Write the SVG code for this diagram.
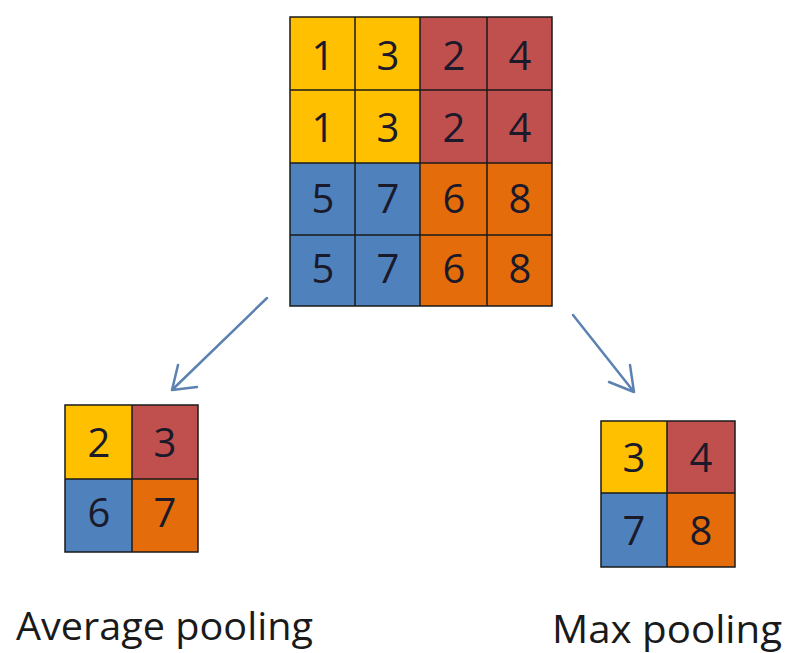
<svg xmlns="http://www.w3.org/2000/svg" width="785" height="653" viewBox="0 0 785 653">
<defs>
<style>
.y{fill:#FFC000}.r{fill:#C0504D}.b{fill:#4F81BD}.o{fill:#E46C0A}
.grid{fill:none;stroke:#1a1a1a;stroke-width:1.5}
.d{font-family:"Open Sans","Liberation Sans",sans-serif;font-size:40px;fill:#1a1a2a;text-anchor:middle}
.lbl{font-family:"Open Sans","Liberation Sans",sans-serif;font-size:38px;fill:#1a1a1a}
.arr{fill:none;stroke:#5B82B0;stroke-width:2.5;stroke-linecap:round;stroke-linejoin:round}
</style>
</defs>
<rect width="785" height="653" fill="#ffffff"/>
<g id="input">
<rect class="y" x="290" y="17" width="130" height="146"/>
<rect class="r" x="420" y="17" width="132" height="146"/>
<rect class="b" x="290" y="163" width="130" height="143"/>
<rect class="o" x="420" y="163" width="132" height="143"/>
<path class="grid" d="M290 17H552V306H290Z M355 17V306 M420 17V306 M487 17V306 M290 90H552 M290 163H552 M290 235H552"/>
<text class="d" x="323" y="70">1</text><text class="d" x="388" y="70">3</text><text class="d" x="454" y="70">2</text><text class="d" x="520" y="70">4</text>
<text class="d" x="323" y="142">1</text><text class="d" x="388" y="142">3</text><text class="d" x="454" y="142">2</text><text class="d" x="520" y="142">4</text>
<text class="d" x="323" y="213">5</text><text class="d" x="388" y="213">7</text><text class="d" x="454" y="213">6</text><text class="d" x="520" y="213">8</text>
<text class="d" x="323" y="283">5</text><text class="d" x="388" y="283">7</text><text class="d" x="454" y="283">6</text><text class="d" x="520" y="283">8</text>
</g>
<g id="avg">
<rect class="y" x="65" y="405" width="67" height="74"/>
<rect class="r" x="132" y="405" width="66" height="74"/>
<rect class="b" x="65" y="479" width="67" height="73"/>
<rect class="o" x="132" y="479" width="66" height="73"/>
<path class="grid" d="M65 405H198V552H65Z M132 405V552 M65 479H198"/>
<text class="d" x="99" y="457">2</text><text class="d" x="165" y="457">3</text>
<text class="d" x="99" y="527">6</text><text class="d" x="165" y="527">7</text>
<text class="lbl" x="16" y="640" textLength="297" lengthAdjust="spacingAndGlyphs">Average pooling</text>
</g>
<g id="max">
<rect class="y" x="601" y="421" width="66" height="72"/>
<rect class="r" x="667" y="421" width="68" height="72"/>
<rect class="b" x="601" y="493" width="66" height="74"/>
<rect class="o" x="667" y="493" width="68" height="74"/>
<path class="grid" d="M601 421H735V567H601Z M667 421V567 M601 493H735"/>
<text class="d" x="634" y="472">3</text><text class="d" x="701" y="472">4</text>
<text class="d" x="634" y="545">7</text><text class="d" x="701" y="545">8</text>
<text class="lbl" x="552" y="643" textLength="230" lengthAdjust="spacingAndGlyphs">Max pooling</text>
</g>
<g id="connectors">
<path class="arr" d="M267 298L172 390 M178 365L172 390L197 387"/>
<path class="arr" d="M573 315L634 392 M630 365L634 392L609 382"/>
</g>
</svg>
